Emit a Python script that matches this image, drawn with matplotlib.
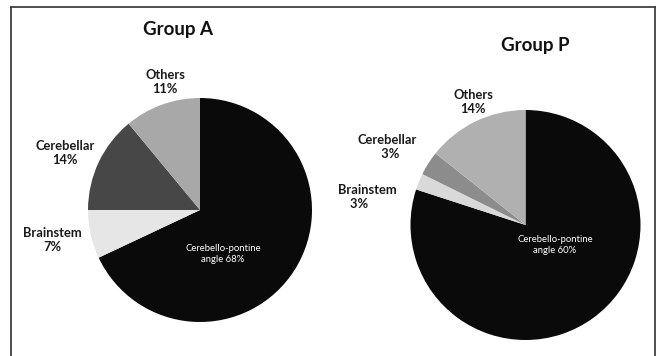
import matplotlib
matplotlib.use('Agg')
import matplotlib.pyplot as plt
from matplotlib.lines import Line2D

# slice order: clockwise from 12 o'clock
groups = ["Group A", "Group P"]
names = ["Cerebello-pontine angle", "Brainstem", "Cerebellar", "Others"]
shares_a = [68, 7, 14, 11]
shares_p = [80, 2.3, 3.4, 14.3]   # drawn sizes (labels below are what the chart prints)
labels_a = ["68%", "7%", "14%", "11%"]
labels_p = ["60%", "3%", "3%", "14%"]

colors_a = ["#0a0a0a", "#e6e6e6", "#474747", "#a8a8a8"]
colors_p = ["#0a0a0a", "#d9d9d9", "#8c8c8c", "#b0b0b0"]

W, H = 657, 356
plt.rcParams['font.family'] = ['Lato', 'DejaVu Sans']

fig = plt.figure(figsize=(W / 100, H / 100), dpi=100, facecolor="white")
ax = fig.add_axes([0, 0, 1, 1])

def Y(y):
    return H - y

def draw(shares, colors, center, r):
    ax.pie(shares, colors=colors, startangle=90, counterclock=False,
           center=(center[0], Y(center[1])), radius=r,
           wedgeprops=dict(linewidth=0), frame=True)

draw(shares_a, colors_a, (200, 210), 112)
draw(shares_p, colors_p, (525.5, 225), 115)
ax.set_xlim(0, W)
ax.set_ylim(0, H)
ax.set_aspect('equal')
ax.axis('off')

# titles
ax.text(178, Y(29), groups[0], ha='center', va='center', fontsize=13.5, fontweight='bold', color='#111111')
ax.text(535, Y(46), groups[1], ha='center', va='center', fontsize=13.5, fontweight='bold', color='#111111')

lab = dict(ha='center', va='center', fontsize=9.3, fontweight='bold', color='#1a1a1a', linespacing=1.2)
white = dict(ha='center', va='center', fontsize=6.8, color='white', linespacing=1.35)
# Group A labels
ax.text(165, Y(82), f"{names[3]}\n{labels_a[3]}", **lab)
ax.text(65, Y(153), f"{names[2]}\n{labels_a[2]}", **lab)
ax.text(52, Y(240), f"{names[1]}\n{labels_a[1]}", **lab)
ax.text(223, Y(254), f"Cerebello-pontine\nangle {labels_a[0]}", **white)
# Group P labels
ax.text(473, Y(102), f"{names[3]}\n{labels_p[3]}", **lab)
ax.text(387, Y(147), f"{names[2]}\n  {labels_p[2]}", **lab)
ax.text(367, Y(197), f"{names[1]}\n{labels_p[1]}     ", **lab)
ax.text(555, Y(245), f"Cerebello-pontine\nangle {labels_p[0]}", **white)

# open frame (top, left, right)
fx = lambda x: x / W
fy = lambda y: 1 - y / H
for xs, ys in [((11, 655), (6.5, 6.5)), ((11, 11), (6.5, 356)), ((655, 655), (6.5, 356))]:
    fig.add_artist(Line2D([fx(xs[0]), fx(xs[1])], [fy(ys[0]), fy(ys[1])], color='#404040', lw=1.3))

fig.savefig("out.png", dpi=100, facecolor="white")
